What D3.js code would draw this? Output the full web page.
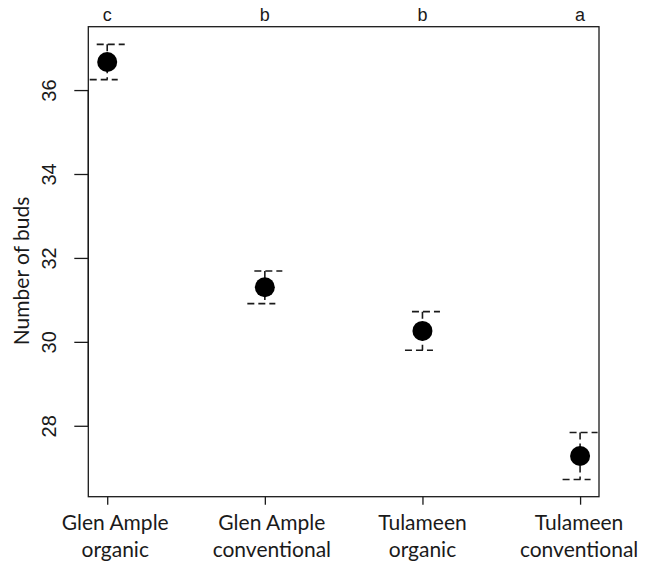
<!DOCTYPE html>
<html>
<head>
<meta charset="utf-8">
<script src="https://cdn.jsdelivr.net/npm/d3@7"></script>
<style>
  html, body { margin: 0; padding: 0; background: #fff; }
</style>
</head>
<body>
<svg id="chart" width="654" height="564"></svg>
<script>
// Treatment groups, in plotting order
const groupLine1 = ["Glen Ample", "Glen Ample", "Tulameen", "Tulameen"];
const groupLine2 = ["organic", "conventional", "organic", "conventional"];
// Mean number of buds and standard error for each group
const means = [36.67, 31.30, 30.26, 27.28];
const errors = [0.42, 0.39, 0.46, 0.56];
// Significance letters shown above each group
const letters = ["c", "b", "b", "a"];
// Y axis ticks
const yTicks = [28, 30, 32, 34, 36];

const svg = d3.select("#chart");
const plotL = 88.3, plotR = 599, plotT = 26.7, plotB = 496.7;
const ink = "#1a1a1a";
// small horizontal nudges of the hand-placed group labels (px)
const labelNudge = [8, 7, 0, -1];

const x = d3.scaleLinear().domain([0.88, 4.12]).range([plotL, plotR]);
const y = d3.scaleLinear().domain([26.31, 37.51]).range([plotB, plotT]);
const idx = means.map((_, i) => i + 1);

// Plot frame
svg.append("rect")
  .attr("x", plotL).attr("y", plotT)
  .attr("width", plotR - plotL).attr("height", plotB - plotT)
  .attr("fill", "none").attr("stroke", ink).attr("stroke-width", 1.3);

// Left axis
const yAxis = svg.append("g")
  .attr("transform", `translate(${plotL},0)`)
  .call(d3.axisLeft(y).tickValues(yTicks).tickSize(14).tickFormat(d3.format("d")));
yAxis.select(".domain").attr("d", `M0,${y(36)}V${y(28)}`).attr("stroke", ink).attr("stroke-width", 1.3);
yAxis.selectAll(".tick line").attr("stroke", ink).attr("stroke-width", 1.3);
yAxis.selectAll(".tick text")
  .attr("x", null).attr("dy", null)
  .attr("transform", "translate(-32,0) rotate(-90)")
  .attr("text-anchor", "middle")
  .attr("font-family", "Liberation Sans, Arial, sans-serif")
  .attr("font-size", 20).attr("fill", ink);

// Bottom axis
const xAxis = svg.append("g")
  .attr("transform", `translate(0,${plotB})`)
  .call(d3.axisBottom(x).tickValues(idx).tickSize(8).tickFormat(""));
xAxis.select(".domain").remove();
xAxis.selectAll(".tick line").attr("stroke", ink).attr("stroke-width", 1.3);

// Two-line group labels
const lab = svg.append("g")
  .attr("font-family", "Lato, 'Open Sans', sans-serif")
  .attr("font-size", 21).attr("fill", ink).attr("text-anchor", "middle");
lab.selectAll("text.l1").data(groupLine1).join("text")
  .attr("class", "l1").attr("x", (d, i) => x(i + 1) + labelNudge[i]).attr("y", 530).text(d => d);
lab.selectAll("text.l2").data(groupLine2).join("text")
  .attr("class", "l2").attr("x", (d, i) => x(i + 1) + labelNudge[i]).attr("y", 557).text(d => d);

// Y axis title
svg.append("text")
  .attr("transform", `translate(29,${271}) rotate(-90)`)
  .attr("text-anchor", "middle")
  .attr("font-family", "Lato, 'Open Sans', sans-serif")
  .attr("font-size", 21).attr("fill", ink)
  .text("Number of buds");

// Significance letters
svg.append("g").selectAll("text").data(letters).join("text")
  .attr("x", (d, i) => x(i + 1)).attr("y", 21)
  .attr("text-anchor", "middle")
  .attr("font-family", "Liberation Sans, Arial, sans-serif")
  .attr("font-size", 18).attr("fill", ink)
  .text(d => d);

// Dashed error bars with caps
const capHalf = 14, capShift = 3.5;
const bars = svg.append("g")
  .attr("stroke", ink).attr("stroke-width", 1.6)
  .attr("stroke-dasharray", "7,4").attr("fill", "none");
means.forEach((m, i) => {
  const cx = x(i + 1);
  bars.append("line").attr("x1", cx).attr("x2", cx)
    .attr("y1", y(m + errors[i])).attr("y2", y(m - errors[i]));
  bars.append("line")
    .attr("x1", cx - capHalf + capShift).attr("x2", cx + capHalf + capShift)
    .attr("y1", y(m + errors[i])).attr("y2", y(m + errors[i]));
  bars.append("line")
    .attr("x1", cx - capHalf - capShift).attr("x2", cx + capHalf - capShift)
    .attr("y1", y(m - errors[i])).attr("y2", y(m - errors[i]));
});

// Group means
svg.append("g").selectAll("circle").data(means).join("circle")
  .attr("cx", (d, i) => x(i + 1)).attr("cy", d => y(d))
  .attr("r", 10).attr("fill", "#000");
</script>
</body>
</html>
